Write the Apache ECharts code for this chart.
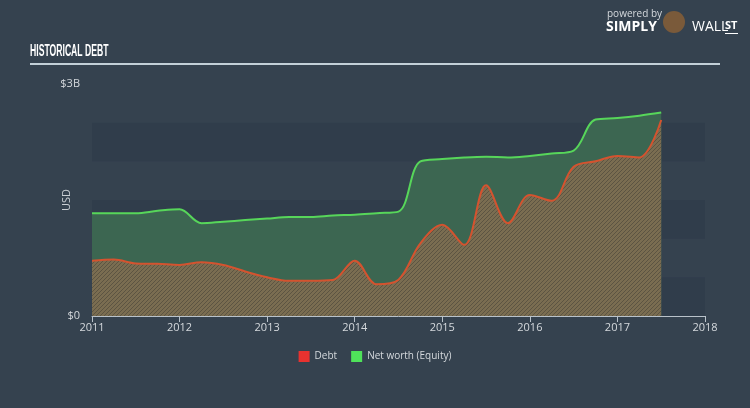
<!DOCTYPE html>
<html><head><meta charset="utf-8">
<style>html,body{margin:0;padding:0;background:#35424f;}#c{width:750px;height:408px;}</style>
<script src="https://cdn.jsdelivr.net/npm/echarts@6/dist/echarts.min.js"></script>
</head><body><div id="c"></div>
<script>
// Data (values in billions USD)
const dates = [2011.0,2011.25,2011.5,2011.75,2012.0,2012.25,2012.5,2012.75,2013.0,2013.25,2013.5,2013.75,2014.0,2014.25,2014.5,2014.75,2015.0,2015.25,2015.5,2015.75,2016.0,2016.25,2016.5,2016.75,2017.0,2017.25,2017.5];
const debt = [0.715,0.73,0.68,0.675,0.66,0.695,0.66,0.575,0.50,0.455,0.455,0.465,0.715,0.41,0.47,0.94,1.18,0.92,1.69,1.20,1.565,1.49,1.93,2.0,2.07,2.05,2.535];
const equity = [1.33,1.33,1.33,1.36,1.38,1.20,1.22,1.24,1.26,1.28,1.28,1.30,1.31,1.33,1.35,2.00,2.03,2.05,2.06,2.05,2.07,2.10,2.14,2.54,2.56,2.59,2.63];
const years = [2011,2012,2013,2014,2015,2016,2017,2018];
const yTickLabels = {0:'$0', 3:'$3B'};

function hatch(){
  const c = document.createElement('canvas');
  c.width = 4; c.height = 4;
  const g = c.getContext('2d');
  g.fillStyle = '#7a6d51'; g.fillRect(0,0,4,4);
  g.strokeStyle = '#5c5442'; g.lineWidth = 1;
  g.beginPath(); g.moveTo(0,4); g.lineTo(4,0); g.stroke();
  g.beginPath(); g.moveTo(-1,1); g.lineTo(1,-1); g.stroke();
  g.beginPath(); g.moveTo(3,5); g.lineTo(5,3); g.stroke();
  return c;
}

const chart = echarts.init(document.getElementById('c'));
chart.setOption({
  backgroundColor: '#35424f',
  animation: false,
  grid: {left: 92, right: 45, top: 84, bottom: 92},
  xAxis: {
    type: 'value', min: 2011, max: 2018, interval: 1,
    axisLine: {show: true, lineStyle: {color: '#b9c2ca', width: 1}},
    axisTick: {show: true, length: 6, lineStyle: {color: '#b9c2ca'}},
    axisLabel: {color: '#d5d9dd', fontSize: 11, margin: 6, fontFamily: 'Open Sans',
      formatter: v => years.includes(v) ? String(v) : ''},
    splitLine: {show: false}
  },
  yAxis: {
    type: 'value', min: 0, max: 3, interval: 0.5,
    name: 'USD', nameLocation: 'middle', nameGap: 20, nameRotate: 90, nameMoveOverlap: false,
    nameTextStyle: {color: '#c9ced3', fontSize: 11, fontFamily: 'Open Sans'},
    axisLine: {show: false}, axisTick: {show: false},
    axisLabel: {color: '#d5d9dd', fontSize: 11, margin: 12, fontFamily: 'Open Sans',
      formatter: v => yTickLabels[v] !== undefined ? yTickLabels[v] : ''},
    splitLine: {show: false},
    splitArea: {show: true, areaStyle: {color: ['#303d4b', '#35424f']}}
  },
  legend: {
    bottom: 41, left: 'center', itemWidth: 11, itemHeight: 11, itemGap: 14, icon: 'rect',
    textStyle: {color: '#d5d9dd', fontSize: 10, fontFamily: 'Open Sans'},
    data: [
      {name: 'Debt', itemStyle: {color: '#e8322f'}},
      {name: 'Net worth (Equity)', itemStyle: {color: '#4fe25a'}}
    ]
  },
  series: [
    {
      name: 'Net worth (Equity)', type: 'line', smooth: 0.35, showSymbol: false,
      data: dates.map((d,i) => [d, equity[i]]),
      lineStyle: {color: '#57d65a', width: 2},
      itemStyle: {color: '#4fe25a'},
      areaStyle: {color: '#3c6651', opacity: 1},
      z: 2
    },
    {
      name: 'Debt', type: 'line', smooth: 0.35, showSymbol: false,
      data: dates.map((d,i) => [d, debt[i]]),
      lineStyle: {color: '#d4532f', width: 2},
      itemStyle: {color: '#e8322f'},
      areaStyle: {color: {image: hatch(), repeat: 'repeat'}, opacity: 1},
      z: 3
    }
  ],
  graphic: [
    {type: 'text', left: 30, top: 44, scaleX: 0.54, style: {text: 'HISTORICAL DEBT', fill: '#ffffff', font: 'bold 16px "Liberation Sans"'}},
    {type: 'rect', shape: {x: 30, y: 63, width: 690, height: 2}, style: {fill: '#c3d0d8'}},
    {type: 'text', left: 607, top: 9, style: {text: 'powered by', fill: '#d5d9dd', font: '10px "Open Sans"'}},
    {type: 'text', left: 606, top: 20, style: {text: 'SIMPLY', fill: '#ffffff', font: 'bold 14px "Open Sans"'}},
    {type: 'circle', shape: {cx: 674, cy: 22, r: 11}, style: {fill: '#7a5a3a'}},
    {type: 'text', left: 692, top: 20, style: {text: 'WALL', fill: '#ffffff', font: '14px "Open Sans"'}},
    {type: 'text', left: 725, top: 20, style: {text: 'ST', fill: '#ffffff', font: 'bold 11px "Open Sans"'}},
    {type: 'rect', shape: {x: 725, y: 33, width: 13, height: 1}, style: {fill: '#ffffff'}}
  ]
});
</script></body></html>
